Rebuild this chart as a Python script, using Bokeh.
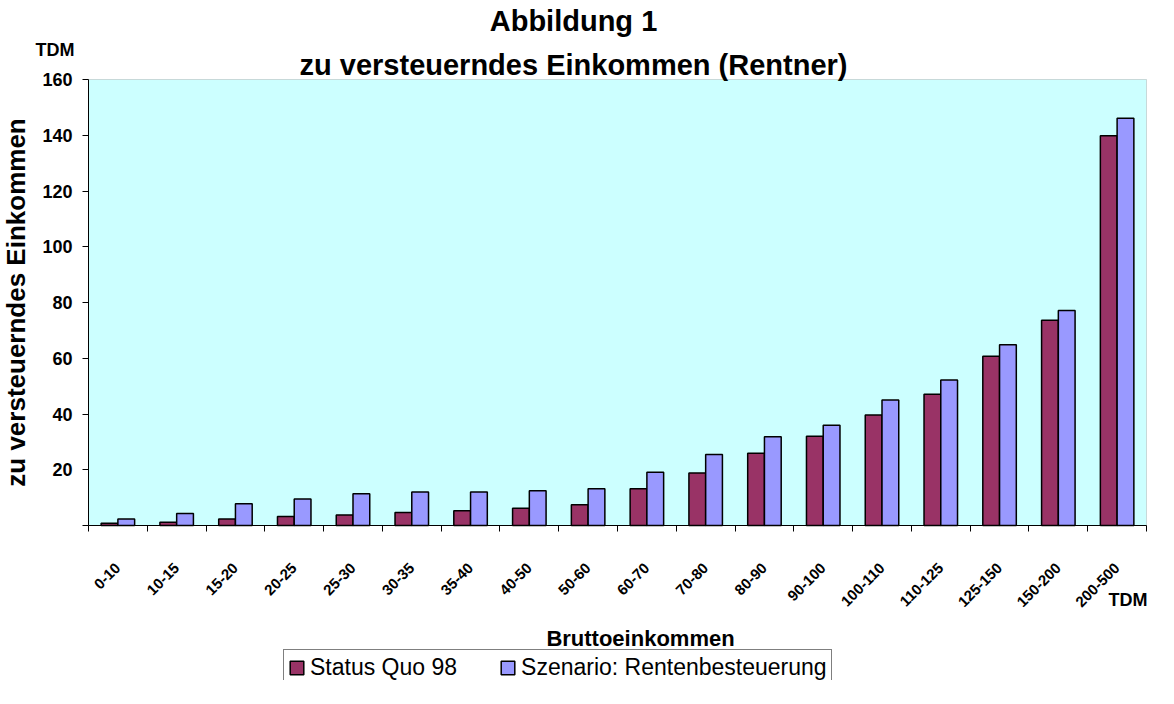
from math import pi

from bokeh.plotting import figure
from bokeh.models import (BoxAnnotation, ColumnDataSource, FixedTicker, Label,
                          Legend, LegendItem, Range1d)
from bokeh.transform import dodge
from bokeh.embed import file_html
from bokeh.resources import INLINE

# ---------------- data ----------------
categories = ["0-10", "10-15", "15-20", "20-25", "25-30", "30-35", "35-40",
              "40-50", "50-60", "60-70", "70-80", "80-90", "90-100",
              "100-110", "110-125", "125-150", "150-200", "200-500"]
status_quo = [0.8, 1.2, 2.3, 3.2, 3.8, 4.7, 5.3, 6.2, 7.4, 13.2, 18.8,
              25.9, 32.0, 39.6, 47.1, 60.7, 73.6, 139.8]
szenario = [2.3, 4.3, 7.8, 9.5, 11.4, 12.0, 12.0, 12.5, 13.2, 19.1, 25.5,
            31.8, 36.0, 45.0, 52.2, 64.8, 77.1, 146.1]
series_names = ["Status Quo 98", "Szenario: Rentenbesteuerung"]
y_ticks = [0, 20, 40, 60, 80, 100, 120, 140, 160]
title_lines = ["Abbildung 1", "zu versteuerndes Einkommen (Rentner)"]
x_title = "Bruttoeinkommen"
y_title = "zu versteuerndes Einkommen"
unit = "TDM"

# ---------------- layout (pixels) ----------------
FONT = "Liberation Sans"
RED = "#993366"
BLUE = "#9999FF"
BG = "#CCFFFF"

W, H = 1150, 680                     # figure size (page offset 8px)
PL, PR, PT, PB = 88, 1146, 79, 525   # plot-area edges inside the figure

n = len(categories)
x0, x1 = -0.5, n - 0.5
y0, y1 = y_ticks[0], y_ticks[-1]
xs = (PR - PL) / (x1 - x0)
ys = (PB - PT) / (y1 - y0)
x_range = Range1d(x0 - PL / xs, x1 + (W - PR) / xs)
y_range = Range1d(y0 - (H - PB) / ys, y1 + PT / ys)

idx = list(range(n))
src = ColumnDataSource(dict(idx=idx, cat=categories, sq=status_quo, sz=szenario))

p = figure(width=W, height=H, output_backend="svg", toolbar_location=None,
           x_range=x_range, y_range=y_range,
           min_border=0, min_border_left=0, min_border_right=0,
           min_border_top=0, min_border_bottom=0)
p.title.text = ""
p.title.visible = False
p.background_fill_color = "white"
p.border_fill_color = "white"
p.outline_line_color = None
p.xgrid.visible = False
p.ygrid.visible = False

# plot area background with grey top/right border
p.add_layout(BoxAnnotation(left=x0, right=x1, bottom=y0, top=y1,
                           fill_color=BG, fill_alpha=1,
                           line_color="#808080", line_width=1,
                           level="underlay"))

bw = 0.285
r1 = p.vbar(x=dodge("idx", -bw / 2, range=p.x_range), top="sq", width=bw,
            source=src, fill_color=RED, line_color="black", line_width=1.5)
r2 = p.vbar(x=dodge("idx", bw / 2, range=p.x_range), top="sz", width=bw,
            source=src, fill_color=BLUE, line_color="black", line_width=1.5)

# x axis: labels at category centres, tick marks at boundaries
xa = p.xaxis[0]
xa.fixed_location = y0
xa.bounds = (x0, x1)
xa.ticker = FixedTicker(ticks=idx, minor_ticks=[i - 0.5 for i in range(n + 1)])
xa.major_label_overrides = {i: c for i, c in zip(idx, categories)}
xa.major_label_orientation = pi / 4
xa.major_tick_out = 0
xa.major_tick_in = 0
xa.minor_tick_out = 6
xa.minor_tick_in = 0
xa.minor_tick_line_color = "black"
xa.axis_line_color = "black"
xa.major_label_standoff = 34
xa.major_label_text_font = FONT
xa.major_label_text_font_style = "bold"
xa.major_label_text_font_size = "15px"
xa.major_label_text_color = "black"

# y axis
ya = p.yaxis[0]
ya.fixed_location = x0
ya.bounds = (y0, y1)
ya.ticker = FixedTicker(ticks=y_ticks)
ya.major_label_overrides = {0: ""}
ya.major_tick_out = 6
ya.major_tick_in = 0
ya.minor_tick_out = 0
ya.minor_tick_in = 0
ya.axis_line_color = "black"
ya.major_tick_line_color = "black"
ya.major_label_standoff = 10
ya.major_label_text_font = FONT
ya.major_label_text_font_style = "bold"
ya.major_label_text_font_size = "18px"
ya.major_label_text_color = "black"
ya.axis_label = y_title
ya.axis_label_text_font = FONT
ya.axis_label_text_font_style = "bold"
ya.axis_label_text_font_size = "26px"
ya.axis_label_text_color = "black"
ya.axis_label_standoff = 8

# titles and unit labels (screen px from the figure's bottom-left)
def add_label(text, x, y, size, align="left", style="bold"):
    p.add_layout(Label(x=x, y=y, x_units="screen", y_units="screen", text=text,
                       text_font=FONT, text_font_style=style,
                       text_font_size=size, text_align=align,
                       text_baseline="alphabetic", text_color="black"))

add_label(title_lines[0], 573, H - 20, "29px", "center")
add_label(title_lines[1], 573, H - 64, "29px", "center")
add_label(unit, 35, H - 49, "18px")
add_label(unit, 1108, H - 599, "18px")
add_label(x_title, 640, H - 638, "22px", "center")

legend = Legend(items=[LegendItem(label=series_names[0], renderers=[r1]),
                       LegendItem(label=series_names[1], renderers=[r2])],
                orientation="horizontal", location=(283, -6),
                label_text_font=FONT, label_text_font_size="23px",
                label_text_color="black", glyph_width=17, glyph_height=17,
                label_standoff=5, spacing=42, padding=4, margin=0,
                border_line_color="black", border_line_width=1,
                background_fill_color="white", background_fill_alpha=1)
p.add_layout(legend, "center")

open("out.html", "w").write(file_html(p, INLINE))
